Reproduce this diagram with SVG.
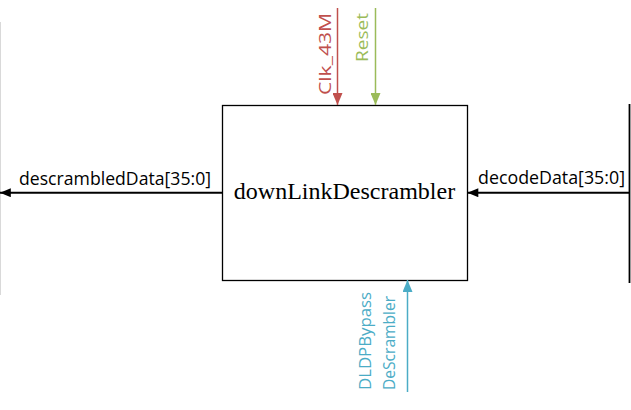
<svg xmlns="http://www.w3.org/2000/svg" width="631" height="410" viewBox="0 0 631 410">
  <defs>
    <marker id="ahBlack" viewBox="0 0 12 10" refX="12" refY="5" markerWidth="12" markerHeight="9" markerUnits="userSpaceOnUse" orient="auto">
      <path d="M0,0 L12,5 L0,10 z" fill="#000"/>
    </marker>
    <marker id="ahRed" viewBox="0 0 12 10" refX="12" refY="5" markerWidth="12" markerHeight="10" markerUnits="userSpaceOnUse" orient="auto">
      <path d="M0,0 L12,5 L0,10 z" fill="#C0504D"/>
    </marker>
    <marker id="ahGreen" viewBox="0 0 12 10" refX="12" refY="5" markerWidth="12" markerHeight="10" markerUnits="userSpaceOnUse" orient="auto">
      <path d="M0,0 L12,5 L0,10 z" fill="#9BBB59"/>
    </marker>
    <marker id="ahBlue" viewBox="0 0 12 10" refX="12" refY="5" markerWidth="12" markerHeight="10" markerUnits="userSpaceOnUse" orient="auto">
      <path d="M0,0 L12,5 L0,10 z" fill="#4BACC6"/>
    </marker>
  </defs>
  <style>
    .lbl { font-family: "Open Sans", "Noto Sans", sans-serif; font-size: 17.5px; }
    .vlbl { font-family: "Open Sans", "Noto Sans", sans-serif; font-size: 17px; }
    .node { fill: #fff; stroke: #000; stroke-width: 1.3; }
    .title { font-family: "Liberation Serif", "Times New Roman", serif; font-size: 24px; fill: #000; }
  </style>
  <rect width="631" height="410" fill="#fff"/>

  <g id="bus-left">
    <line x1="0.5" y1="22" x2="0.5" y2="295" stroke="#d9d9d9" stroke-width="1"/>
  </g>
  <g id="bus-right">
    <line x1="629.5" y1="104" x2="629.5" y2="283" stroke="#000" stroke-width="1.8"/>
  </g>

  <g id="downLinkDescrambler">
    <rect class="node" x="222.5" y="105.5" width="245" height="175"/>
    <text class="title" x="344.5" y="199" text-anchor="middle">downLinkDescrambler</text>
  </g>

  <g id="connectors">
    <line x1="222" y1="192.7" x2="0" y2="192.7" stroke="#000" stroke-width="2" marker-end="url(#ahBlack)"/>
    <line x1="629" y1="192.7" x2="467.5" y2="192.7" stroke="#000" stroke-width="2" marker-end="url(#ahBlack)"/>
    <line x1="337.5" y1="8" x2="337.5" y2="105" stroke="#C0504D" stroke-width="1.5" marker-end="url(#ahRed)"/>
    <line x1="375.5" y1="8" x2="375.5" y2="105" stroke="#9BBB59" stroke-width="1.5" marker-end="url(#ahGreen)"/>
    <line x1="407.5" y1="392" x2="407.5" y2="280" stroke="#4BACC6" stroke-width="1.5" marker-end="url(#ahBlue)"/>
  </g>

  <g id="labels">
    <text class="lbl" x="19" y="185" textLength="192" lengthAdjust="spacingAndGlyphs" fill="#000">descrambledData[35:0]</text>
    <text class="lbl" x="478" y="183.5" textLength="147" lengthAdjust="spacingAndGlyphs" fill="#000">decodeData[35:0]</text>
    <text class="vlbl" transform="translate(330.5,95) rotate(-90)" textLength="82" lengthAdjust="spacingAndGlyphs" fill="#C0504D">Clk_43M</text>
    <text class="vlbl" transform="translate(368,62) rotate(-90)" textLength="49" lengthAdjust="spacingAndGlyphs" fill="#9BBB59">Reset</text>
    <text class="vlbl" transform="translate(371,390) rotate(-90)" textLength="98" lengthAdjust="spacingAndGlyphs" fill="#4BACC6">DLDPBypass</text>
    <text class="vlbl" transform="translate(394.5,390) rotate(-90)" textLength="94" lengthAdjust="spacingAndGlyphs" fill="#4BACC6">DeScrambler</text>
  </g>
</svg>
